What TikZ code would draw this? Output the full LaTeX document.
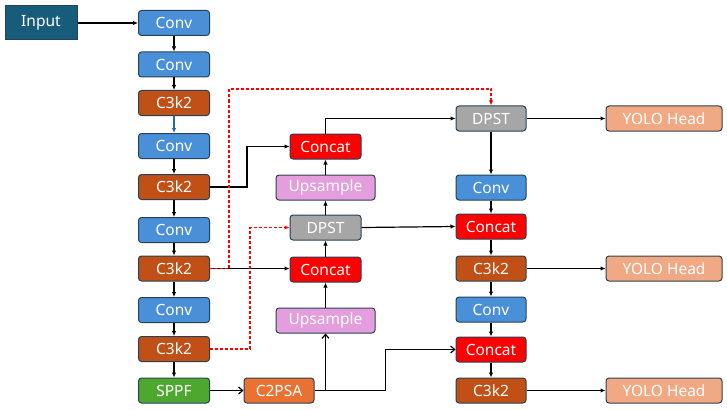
\documentclass[tikz,border=0pt]{standalone}
\usepackage{fontspec}
\setmainfont{Noto Sans}
\usetikzlibrary{arrows.meta}
\definecolor{inputc}{RGB}{24,92,124}
\definecolor{convc}{RGB}{74,144,217}
\definecolor{c3c}{RGB}{192,80,22}
\definecolor{sppfc}{RGB}{78,167,46}
\definecolor{c2psac}{RGB}{233,113,50}
\definecolor{concatc}{RGB}{255,0,0}
\definecolor{upc}{RGB}{228,158,221}
\definecolor{dpstc}{RGB}{166,166,166}
\definecolor{yoloc}{RGB}{241,169,131}
\definecolor{bordc}{RGB}{38,66,84}
\definecolor{tealc}{RGB}{34,110,150}
\begin{document}
\begin{tikzpicture}[x=1pt,y=-1pt,
  blk/.style={draw=bordc,line width=1pt,rounded corners=3pt,minimum height=25pt,inner sep=0pt,text=white,font=\fontsize{15.5}{17}\selectfont,minimum width=71pt},
  conv/.style={blk,fill=convc},
  cthree/.style={blk,fill=c3c},
  concat/.style={blk,fill=concatc},
  ups/.style={blk,fill=upc,minimum width=99pt},
  dpst/.style={blk,fill=dpstc},
  yolo/.style={blk,fill=yoloc,minimum width=116pt},
  arr/.style={draw=black,line width=1.2pt,-{Latex[length=5pt,width=4.5pt]}},
  oarr/.style={draw=black,line width=1.2pt,-{Straight Barb[length=4pt,width=7pt]}},
  rdash/.style={draw=red,line width=1.2pt,dashed,dash pattern=on 3pt off 2pt,-{Latex[length=5pt,width=4.5pt]}}]
\useasboundingbox (0,0) rectangle (727,409);
% input
\node[blk,fill=inputc,rounded corners=0pt,minimum width=72pt,minimum height=34pt] (input) at (41,23) {Input};
% column 1
\node[conv] (c1) at (174,23) {Conv};
\node[conv] (c2) at (174,64.5) {Conv};
\node[cthree] (c3) at (174,103) {C3k2};
\node[conv] (c4) at (174,146) {Conv};
\node[cthree] (c5) at (174,187) {C3k2};
\node[conv] (c6) at (174,230) {Conv};
\node[cthree] (c7) at (174,268.5) {C3k2};
\node[conv] (c8) at (174,310) {Conv};
\node[cthree] (c9) at (174,349) {C3k2};
\node[blk,fill=sppfc] (c10) at (174,390.5) {SPPF};
\node[blk,fill=c2psac,minimum width=70pt] (c2psa) at (279,390.5) {C2PSA};
% column 2
\node[concat] (concatA) at (325.5,146.5) {Concat};
\node[ups] (upA) at (325.5,187.5) {Upsample};
\node[dpst] (dpstA) at (325.5,227.5) {DPST};
\node[concat] (concatB) at (325.5,269.5) {Concat};
\node[ups] (upB) at (325.5,320.5) {Upsample};
% column 3
\node[dpst,minimum width=70pt] (dpstT) at (491,118.5) {DPST};
\node[conv,minimum width=70pt] (convR1) at (491,187.5) {Conv};
\node[concat,minimum width=70pt] (concatR1) at (491,226.5) {Concat};
\node[cthree,minimum width=70pt] (c3R1) at (491,268.5) {C3k2};
\node[conv,minimum width=70pt] (convR2) at (491,309.5) {Conv};
\node[concat,minimum width=70pt] (concatR2) at (491,349.5) {Concat};
\node[cthree,minimum width=70pt] (c3R2) at (491,390.5) {C3k2};
% heads
\node[yolo] (y1) at (664,118.5) {YOLO Head};
\node[yolo] (y2) at (664,268.5) {YOLO Head};
\node[yolo] (y3) at (664,390.5) {YOLO Head};
% column 1 edges
\draw[arr] (input) -- (c1);
\draw[arr] (c1) -- (c2);
\draw[arr] (c2) -- (c3);
\draw[arr,draw=tealc,-{Latex[length=5pt,width=4.5pt]},tealc] (c3) -- (c4);
\draw[arr] (c4) -- (c5);
\draw[arr] (c5) -- (c6);
\draw[arr] (c6) -- (c7);
\draw[arr] (c7) -- (c8);
\draw[arr] (c8) -- (c9);
\draw[arr] (c9) -- (c10);
\draw[oarr] (c10) -- (c2psa);
% to column 2
\draw[arr] (c5.east) -- ++(37,0) |- (concatA.west);
\draw[arr] (c7.east) -- (c7.east -| concatB.west);
\draw[oarr] (c2psa.east) -| (upB.south);
\draw[oarr] (c2psa.east) -- ++(71,0) |- (concatR2.west);
\draw[arr] (upB) -- (concatB);
\draw[arr] (concatB) -- (dpstA);
\draw[arr] (dpstA) -- (upA);
\draw[arr] (upA) -- (concatA);
% to column 3
\draw[arr] (concatA.north) |- (dpstT.west);
\draw[arr] (dpstA.east) -- (concatR1.west);
\draw[arr] (dpstT) -- (convR1);
\draw[arr] (convR1) -- (concatR1);
\draw[arr] (concatR1) -- (c3R1);
\draw[arr] (c3R1) -- (convR2);
\draw[arr] (convR2) -- (concatR2);
\draw[arr] (concatR2) -- (c3R2);
% heads
\draw[arr] (dpstT) -- (y1);
\draw[arr] (c3R1) -- (y2);
\draw[arr] (c3R2) -- (y3);
% red dashed
\draw[rdash] (c7.east) -- ++(19,0) -- ++(0,-179.5) -| (dpstT.north);
\draw[rdash] (c9.east) -- ++(40,0) |- (dpstA.west);
\end{tikzpicture}
\end{document}
